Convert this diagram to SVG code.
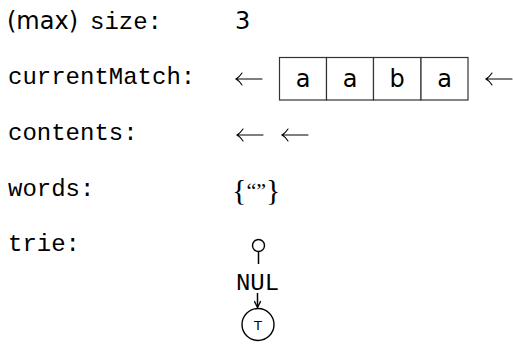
<svg xmlns="http://www.w3.org/2000/svg" width="513" height="346" viewBox="0 0 513 346">
<defs>
<style>
.tt{font-family:"Liberation Mono","DejaVu Sans Mono",monospace;font-size:24px;fill:#000}
.sf{font-family:"DejaVu Sans","Liberation Sans",sans-serif;font-size:24px;fill:#000}
.rm{font-family:"Liberation Serif","DejaVu Serif",serif;font-size:30px;fill:#000}
.arr{fill:none;stroke:#000;stroke-width:1.1;stroke-linecap:round}
.cell{fill:#fff;stroke:#333;stroke-width:1.2}
.ln{fill:none;stroke:#000;stroke-width:1.5}
</style>
<marker id="head" viewBox="0 0 10 10" refX="9" refY="5" markerWidth="8" markerHeight="8" markerUnits="userSpaceOnUse" orient="auto">
<path d="M1,1 L9,5 L1,9" fill="none" stroke="#000" stroke-width="1.6"/>
</marker>
<path id="la" d="M0,0 H26 M6,-6 Q3,-1.5 0,0 Q3,1.5 6,6"/>
</defs>
<rect width="513" height="346" fill="#fff"/>
<g id="labels">
<text class="sf" x="7" y="28.5">(max)</text>
<text class="tt" x="90" y="28.5">size:</text>
<text class="tt" x="8" y="84">currentMatch:</text>
<text class="tt" x="8" y="140">contents:</text>
<text class="tt" x="8" y="195.5">words:</text>
<text class="tt" x="8" y="251">trie:</text>
</g>
<g id="size-value"><text class="sf" x="235" y="28.5">3</text></g>
<g id="currentMatch">
<use href="#la" class="arr" x="236" y="79"/>
<rect class="cell" x="279.5" y="57.5" width="47" height="42.5"/>
<rect class="cell" x="326.5" y="57.5" width="47" height="42.5"/>
<rect class="cell" x="373.5" y="57.5" width="47.5" height="42.5"/>
<rect class="cell" x="421" y="57.5" width="47" height="42.5"/>
<text class="sf" x="303" y="86.5" text-anchor="middle">a</text>
<text class="sf" x="350" y="86.5" text-anchor="middle">a</text>
<text class="sf" x="397" y="86.5" text-anchor="middle">b</text>
<text class="sf" x="444.5" y="86.5" text-anchor="middle">a</text>
<use href="#la" class="arr" x="486" y="79"/>
</g>
<g id="contents">
<use href="#la" class="arr" x="237" y="135"/>
<use href="#la" class="arr" x="282" y="135"/>
</g>
<g id="words"><text class="rm" x="232" y="200">{<tspan font-size="22" dy="-2">“”</tspan><tspan dy="2">}</tspan></text></g>
<g id="trie">
<g id="root"><circle cx="258.5" cy="245.5" r="6" fill="#fff" stroke="#000" stroke-width="1.4"/></g>
<g id="nul"><text class="tt" x="257.5" y="289.5" text-anchor="middle">NUL</text></g>
<g id="leaf"><circle cx="258" cy="324.5" r="16" fill="#fff" stroke="#000" stroke-width="1.4"/>
<text x="258" y="329.5" text-anchor="middle" style="font-family:'DejaVu Sans','Liberation Sans',sans-serif;font-size:13px">T</text></g>
</g>
<g id="connectors">
<line class="ln" x1="258.5" y1="251.5" x2="258.5" y2="264"/>
<line class="ln" x1="257.5" y1="293" x2="257.5" y2="307.5" marker-end="url(#head)"/>
</g>
</svg>
